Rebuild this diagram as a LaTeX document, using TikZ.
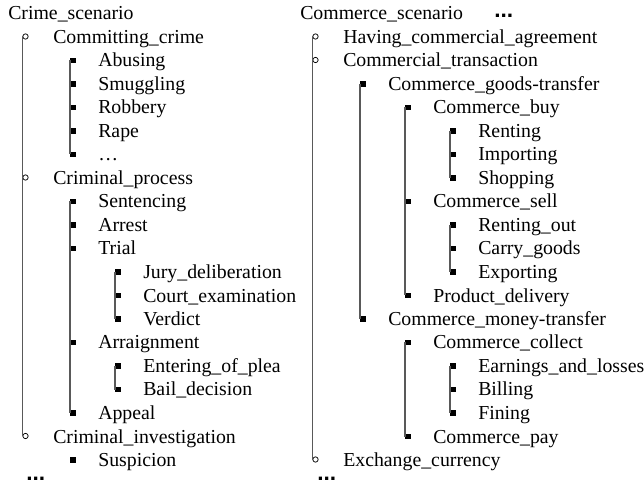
\documentclass[tikz,border=0pt]{standalone}
\usepackage{fontspec}
\setmainfont{Liberation Serif}
\newfontfamily\dotsfont{Liberation Sans}
\begin{document}
\begin{tikzpicture}[x=0.75pt,y=-0.75pt,
  entry/.style={anchor=base west,inner sep=0pt,font=\fontsize{14.85}{17}\selectfont},
  ring/.style={circle,draw=black,line width=0.55pt,minimum size=4pt,inner sep=0pt},
  sq/.style={rectangle,fill=black,minimum width=4.1pt,minimum height=4.1pt,inner sep=0pt},
  rail/.style={draw=black!65,line width=1pt},
  more/.style={anchor=base west,inner sep=0pt,font=\dotsfont\bfseries\fontsize{17}{17}\selectfont}]
\useasboundingbox (0,0) rectangle (644,485);

% ---------------- Crime scenario ----------------
\node[entry] (crime) at (8,20) {Crime\_scenario};

\node[ring] (b-commit) at (25.5,36.5) {};
\node[entry] (commit) at (53,43.5) {Committing\_crime};
\node[sq] (b-abusing) at (73,60.5) {};
\node[entry] (abusing) at (98,67) {Abusing};
\node[sq] (b-smuggling) at (73,84) {};
\node[entry] (smuggling) at (98,90.5) {Smuggling};
\node[sq] (b-robbery) at (73,107.5) {};
\node[entry] (robbery) at (98,114) {Robbery};
\node[sq] (b-rape) at (73,131) {};
\node[entry] (rape) at (98,137.5) {Rape};
\node[sq] (b-etc) at (73,154.5) {};
\node[entry] (etc) at (98,161) {\ldots};

\node[ring] (b-process) at (25.5,177.5) {};
\node[entry] (process) at (53,184.5) {Criminal\_process};
\node[sq] (b-sentencing) at (73,201.5) {};
\node[entry] (sentencing) at (98,208) {Sentencing};
\node[sq] (b-arrest) at (73,225) {};
\node[entry] (arrest) at (98,231.5) {Arrest};
\node[sq] (b-trial) at (73,248.5) {};
\node[entry] (trial) at (98,255) {Trial};
\node[sq] (b-jury) at (118,272) {};
\node[entry] (jury) at (143,278.5) {Jury\_deliberation};
\node[sq] (b-court) at (118,295.5) {};
\node[entry] (court) at (143,302) {Court\_examination};
\node[sq] (b-verdict) at (118,319) {};
\node[entry] (verdict) at (143,325.5) {Verdict};
\node[sq] (b-arraign) at (73,342.5) {};
\node[entry] (arraign) at (98,349) {Arraignment};
\node[sq] (b-plea) at (118,366) {};
\node[entry] (plea) at (143,372.5) {Entering\_of\_plea};
\node[sq] (b-bail) at (118,389.5) {};
\node[entry] (bail) at (143,396) {Bail\_decision};
\node[sq] (b-appeal) at (73,413) {};
\node[entry] (appeal) at (98,419.5) {Appeal};

\node[ring] (b-invest) at (25.5,436) {};
\node[entry] (invest) at (53,443) {Criminal\_investigation};
\node[sq] (b-suspicion) at (73,460) {};
\node[entry] (suspicion) at (98,466.5) {Suspicion};

\node[more] (crime-more) at (26,480) {...};

% rails joining siblings
\draw[rail] (b-commit.west) -- (b-invest.west);
\draw[rail] (b-abusing.west) -- (b-etc.west);
\draw[rail] (b-sentencing.west) -- (b-appeal.west);
\draw[rail] (b-jury.west) -- (b-verdict.west);
\draw[rail] (b-plea.west) -- (b-bail.west);

% ---------------- Commerce scenario ----------------
\node[entry] (commerce) at (300,20) {Commerce\_scenario};
\node[more] (commerce-top) at (494,17.5) {...};

\node[ring] (b-having) at (315.5,36.5) {};
\node[entry] (having) at (343,43.5) {Having\_commercial\_agreement};
\node[ring] (b-transaction) at (315.5,60) {};
\node[entry] (transaction) at (343,67) {Commercial\_transaction};

\node[sq] (b-goods) at (363,84) {};
\node[entry] (goods) at (388,90.5) {Commerce\_goods-transfer};
\node[sq] (b-buy) at (408,107.5) {};
\node[entry] (buy) at (433,114) {Commerce\_buy};
\node[sq] (b-renting) at (453,131) {};
\node[entry] (renting) at (478,137.5) {Renting};
\node[sq] (b-importing) at (453,154.5) {};
\node[entry] (importing) at (478,161) {Importing};
\node[sq] (b-shopping) at (453,178) {};
\node[entry] (shopping) at (478,184.5) {Shopping};
\node[sq] (b-sell) at (408,201.5) {};
\node[entry] (sell) at (433,208) {Commerce\_sell};
\node[sq] (b-rentout) at (453,225) {};
\node[entry] (rentout) at (478,231.5) {Renting\_out};
\node[sq] (b-carry) at (453,248.5) {};
\node[entry] (carry) at (478,255) {Carry\_goods};
\node[sq] (b-exporting) at (453,272) {};
\node[entry] (exporting) at (478,278.5) {Exporting};
\node[sq] (b-delivery) at (408,295.5) {};
\node[entry] (delivery) at (433,302) {Product\_delivery};

\node[sq] (b-money) at (363,319) {};
\node[entry] (money) at (388,325.5) {Commerce\_money-transfer};
\node[sq] (b-collect) at (408,342.5) {};
\node[entry] (collect) at (433,349) {Commerce\_collect};
\node[sq] (b-earnings) at (453,366) {};
\node[entry] (earnings) at (478,372.5) {Earnings\_and\_losses};
\node[sq] (b-billing) at (453,389.5) {};
\node[entry] (billing) at (478,396) {Billing};
\node[sq] (b-fining) at (453,413) {};
\node[entry] (fining) at (478,419.5) {Fining};
\node[sq] (b-pay) at (408,436.5) {};
\node[entry] (pay) at (433,443) {Commerce\_pay};

\node[ring] (b-exchange) at (315.5,459.5) {};
\node[entry] (exchange) at (343,466.5) {Exchange\_currency};

\node[more] (commerce-more) at (317,480) {...};

% rails joining siblings
\draw[rail] (b-having.west) -- (b-exchange.west);
\draw[rail] (b-goods.west) -- (b-money.west);
\draw[rail] (b-buy.west) -- (b-delivery.west);
\draw[rail] (b-renting.west) -- (b-shopping.west);
\draw[rail] (b-rentout.west) -- (b-exporting.west);
\draw[rail] (b-collect.west) -- (b-pay.west);
\draw[rail] (b-earnings.west) -- (b-fining.west);
\end{tikzpicture}
\end{document}
